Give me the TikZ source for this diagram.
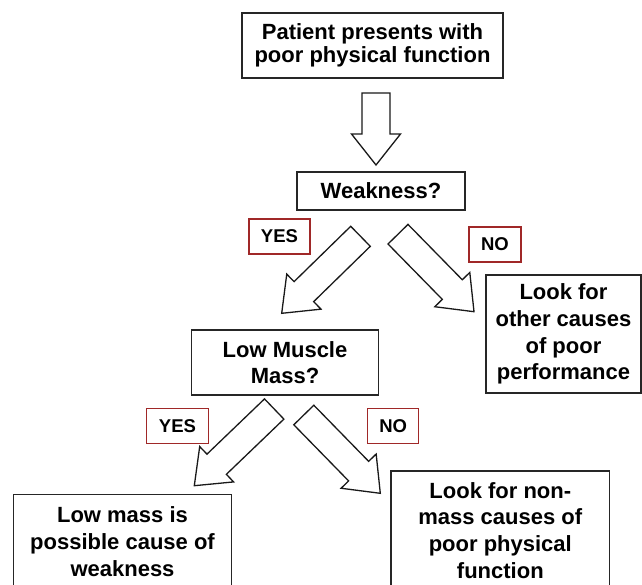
\documentclass[tikz,border=0pt]{standalone}
\usepackage{fontspec}
\setmainfont{Liberation Sans}
\usetikzlibrary{calc}
\definecolor{lblred}{RGB}{160,40,40}
\newcommand\mkblockarrow[2]{%
  \coordinate (#1-b) at ($(#2)!31pt!(#1)$);
  \draw[blockarr] ($(#1)!14pt!90:(#2)$) -- ($(#1-b)!14pt!90:(#2)$) -- ($(#1-b)!24.5pt!90:(#2)$)
    -- (#2) -- ($(#1-b)!24.5pt!-90:(#2)$) -- ($(#1-b)!14pt!-90:(#2)$) -- ($(#1)!14pt!-90:(#2)$) -- cycle;}
\begin{document}
\begin{tikzpicture}[x=1pt,y=-1pt,
  box/.style={draw=black!85, line width=1.2pt, inner sep=0pt, align=center,
    font=\fontsize{22}{26.7}\selectfont\bfseries, text=black},
  lbl/.style={draw=lblred, line width=1.2pt, inner sep=0pt, minimum height=35,
    font=\fontsize{18.5}{22}\selectfont\bfseries, text=black},
  blockarr/.style={draw=black!90, line width=1.3pt, fill=white, line join=miter}]
\useasboundingbox (0,0) rectangle (642,584);
\clip (0,0) rectangle (642,584);

\node[box, minimum width=261, minimum height=65, font=\fontsize{22}{22.5}\selectfont\bfseries] (start) at (372.5,45.5) {Patient presents with\\poor physical function};
\node[box, minimum width=168, minimum height=38] (weak) at (381,191) {Weakness?};
\node[box, minimum width=187, minimum height=65] (lmm) at (285,362.5) {Low Muscle\\Mass?};
\node[box, minimum width=155, minimum height=118] (other) at (563.5,334) {Look for\\other causes\\of poor\\performance};
\node[box, minimum width=218.4, minimum height=94.8] (lowmass) at (122.5,541.7) {Low mass is\\possible cause of\\weakness};
\node[box, minimum width=218.7, minimum height=118.8] (nonmass) at (500.3,530.4) {Look for non-\\mass causes of\\poor physical\\function};

\node[lbl, minimum width=61] (yes1) at (279.5,236.5) {YES};
\node[lbl, minimum width=52] (no1) at (495,244.5) {NO};
\node[lbl, minimum width=61.6] (yes2) at (177.5,425.8) {YES};
\node[lbl, minimum width=51] (no2) at (393.2,425.8) {NO};

\coordinate (a0t) at (376,93);    \coordinate (a0h) at (376,165);
\coordinate (a1t) at (360.5,236.3); \coordinate (a1h) at (281.7,313.3);
\coordinate (a2t) at (398,234.2); \coordinate (a2h) at (474,311.7);
\coordinate (a3t) at (274.2,409); \coordinate (a3h) at (194.3,485.7);
\coordinate (a4t) at (303.8,415); \coordinate (a4h) at (380.3,493.3);

\mkblockarrow{a0t}{a0h}
\mkblockarrow{a1t}{a1h}
\mkblockarrow{a2t}{a2h}
\mkblockarrow{a3t}{a3h}
\mkblockarrow{a4t}{a4h}
\end{tikzpicture}
\end{document}
